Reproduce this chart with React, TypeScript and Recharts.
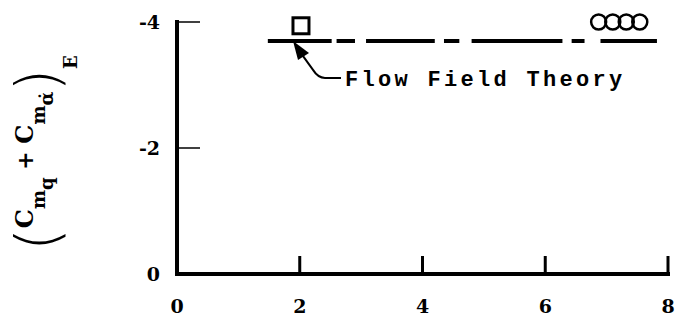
import {
  ComposedChart, Line, Scatter, XAxis, YAxis, ReferenceDot
} from 'recharts';

const xTicks = [0, 2, 4, 6, 8];
const yTicks = [-4, -2, 0];

// flow field theory line, drawn as dashes of uneven length
const theoryValue = -3.7;
const theoryStart = [1.48, 2.6, 3.08, 4.35, 4.8, 6.43, 6.9];
const theoryEnd = [2.52, 2.9, 4.2, 4.6, 6.28, 6.64, 7.82];

const squareX = [2.02];
const squareY = [-3.94];

const circleX = [6.87, 7.1, 7.32, 7.54];
const circleY = [-4.0, -4.0, -4.0, -4.0];

// where the arrow touches the theory line
const arrowX = 1.89;

const theoryData: { x: number; y: number | null }[] = [];
theoryStart.forEach((s, i) => {
  theoryData.push({ x: s, y: theoryValue });
  theoryData.push({ x: theoryEnd[i], y: theoryValue });
  if (i < theoryStart.length - 1) {
    theoryData.push({ x: (theoryEnd[i] + theoryStart[i + 1]) / 2, y: null });
  }
});
const squareData = squareX.map((x, i) => ({ x, y: squareY[i] }));
const circleData = circleX.map((x, i) => ({ x, y: circleY[i] }));

const serif = '"DejaVu Serif", serif';

const XTick = ({ x, y, payload }: any) => (
  <g>
    <line x1={x} y1={y} x2={x} y2={y - 18} stroke="#000" strokeWidth={3} />
    <text x={x} y={y + 39} textAnchor="middle" fontFamily={serif} fontWeight="bold" fontSize={19} fill="#000">
      {payload.value}
    </text>
  </g>
);

const YTick = ({ x, y, payload }: any) => (
  <g>
    <line x1={x} y1={y} x2={x + 23} y2={y} stroke="#000" strokeWidth={1.5} />
    <text x={x - 17} y={y + 7} textAnchor="end" fontFamily={serif} fontWeight="bold" fontSize={19} fill="#000">
      {payload.value}
    </text>
  </g>
);

// axis title, rotated, with nested subscripts
const YTitle = () => {
  const cx = 33;
  const cy = 153;
  const paren = { fontFamily: '"DejaVu Sans", sans-serif', fontWeight: 200, fontSize: 58 };
  return (
    <svg width={80} height={322} style={{ position: 'absolute', left: 0, top: 0 }}>
      <text x={cx} y={cy} transform={`rotate(-90 ${cx} ${cy})`} textAnchor="middle"
        fontFamily={serif} fontWeight="bold" fontSize={24} fill="#000">
        <tspan {...paren} dy={25}>(</tspan>
        <tspan dy={-25}>C</tspan>
        <tspan fontSize={18} dy={12}>m</tspan>
        <tspan fontSize={18} dy={8}>q</tspan>
        <tspan fontSize={22} dy={-20}> + </tspan>
        <tspan>C</tspan>
        <tspan fontSize={18} dy={12}>m</tspan>
        <tspan fontSize={18} dy={8}>α̇</tspan>
        <tspan {...paren} dy={5}>)</tspan>
        <tspan fontSize={18} dy={19}>E</tspan>
      </text>
    </svg>
  );
};

const SquareMark = ({ cx, cy }: any) => (
  <rect x={cx - 8} y={cy - 8} width={16} height={16} fill="#fff" stroke="#000" strokeWidth={3} />
);

const CircleMark = ({ cx, cy }: any) => (
  <circle cx={cx} cy={cy} r={7.5} fill="none" stroke="#000" strokeWidth={2.5} />
);

const ArrowNote = ({ cx, cy }: any) => (
  <g>
    <path d={`M${cx + 7} ${cy + 11} L${cx + 20} ${cy + 29} Q${cx + 25} ${cy + 37} ${cx + 32} ${cy + 37} L${cx + 48} ${cy + 37}`}
      fill="none" stroke="#000" strokeWidth={2} />
    <path d={`M${cx} ${cy} L${cx + 5} ${cy + 19} L${cx + 16} ${cy + 12} Z`} fill="#000" />
    <text x={cx + 52} y={cy + 45} fontFamily='"Liberation Mono", monospace' fontWeight="bold"
      fontSize={22} letterSpacing={3.3} fill="#000">
      Flow Field Theory
    </text>
  </g>
);

export default function App() {
  return (
    <div style={{ position: 'absolute', left: 0, top: 0, width: 679, height: 322, background: '#fff' }}>
      <ComposedChart width={679} height={322} margin={{ top: 22, right: 11, bottom: 0, left: 0 }}>
        <XAxis
          type="number"
          dataKey="x"
          domain={[0, 8]}
          ticks={xTicks}
          height={48}
          tickSize={0}
          tickMargin={0}
          tick={<XTick />}
          axisLine={{ stroke: '#000', strokeWidth: 4, strokeLinecap: 'square' }}
        />
        <YAxis
          type="number"
          dataKey="y"
          domain={[-4, 0]}
          reversed
          ticks={yTicks}
          width={177}
          tickSize={0}
          tickMargin={0}
          tick={<YTick />}
          axisLine={{ stroke: '#000', strokeWidth: 4, strokeLinecap: 'square' }}
        />
        <Line
          data={theoryData}
          dataKey="y"
          type="linear"
          stroke="#000"
          strokeWidth={4}
          dot={false}
          connectNulls={false}
          isAnimationActive={false}
        />
        <Scatter data={squareData} dataKey="y" shape={<SquareMark />} isAnimationActive={false} />
        <Scatter data={circleData} dataKey="y" shape={<CircleMark />} isAnimationActive={false} />
        <ReferenceDot x={arrowX} y={theoryValue} shape={<ArrowNote />} ifOverflow="visible" />
      </ComposedChart>
      <YTitle />
    </div>
  );
}
